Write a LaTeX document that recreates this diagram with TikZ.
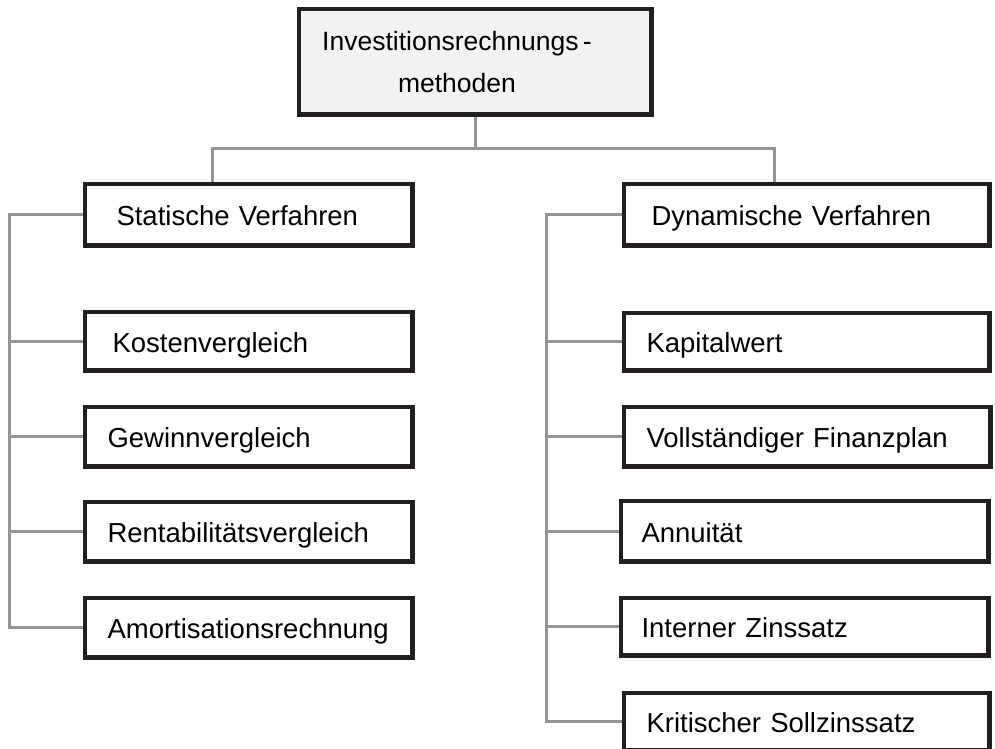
\documentclass[tikz,border=0pt]{standalone}
\usepackage{fontspec}
\setmainfont{Liberation Sans}
\usetikzlibrary{calc}
\definecolor{boxline}{HTML}{231F20}
\definecolor{connline}{HTML}{939598}
\definecolor{topfill}{HTML}{F1F2F3}
\begin{document}
\begin{tikzpicture}[x=1pt,y=-1pt,
  box/.style={draw=boxline, line width=3pt, fill=white, rectangle, anchor=north west,
    inner ysep=0pt, inner xsep=0pt, align=left, text height=24pt, text depth=2pt,
    font=\fontsize{27.5}{33}\selectfont},
  conn/.style={draw=connline, line width=3pt},
]
\useasboundingbox (0,0) rectangle (995,748);

% top box
\node[draw=boxline, line width=3pt, fill=topfill, anchor=north west,
  minimum width=351pt, minimum height=104pt, inner sep=0pt] (top) at (298,8) {};
\node[align=center, font=\fontsize{26.5}{42}\selectfont, inner sep=0pt] (toptext) at (457,62)
  {Investitionsrechnungs\,-\\methoden};

\coordinate (jy) at (0,148);
\coordinate (ls) at (9,0);
\coordinate (rs) at (546,0);

% left boxes
\newcommand{\lpad}[1]{\hspace*{#1}}
\node[box, minimum width=326pt, minimum height=60pt, text width=326pt] (stat) at (84,183) {\lpad{31pt}Statische Verfahren};
\node[box, minimum width=326pt, minimum height=57pt, text width=326pt] (kost) at (84,311) {\lpad{27pt}Kostenvergleich};
\node[box, minimum width=326pt, minimum height=58pt, text width=326pt] (gew) at (84,406) {\lpad{22pt}Gewinnvergleich};
\node[box, minimum width=326pt, minimum height=58pt, text width=326pt] (rent) at (84,501) {\lpad{22pt}Rentabilitätsvergleich};
\node[box, minimum width=326pt, minimum height=58pt, text width=326pt] (amort) at (84,597) {\lpad{22pt}Amortisationsrechnung};

% right boxes
\node[box, minimum width=364pt, minimum height=60pt, text width=364pt] (dyn) at (623,183) {\lpad{27pt}Dynamische Verfahren};
\node[box, minimum width=364pt, minimum height=56pt, text width=364pt] (kap) at (623,312) {\lpad{22pt}Kapitalwert};
\node[box, minimum width=365pt, minimum height=58pt, text width=365pt] (voll) at (623,406) {\lpad{22pt}Vollständiger Finanzplan};
\node[box, minimum width=366pt, minimum height=59pt, text width=366pt] (ann) at (620,500) {\lpad{20pt}Annuität};
\node[box, minimum width=366pt, minimum height=56pt, text width=366pt] (int) at (620,597) {\lpad{20pt}Interner Zinssatz};
\node[box, minimum width=364pt, minimum height=56pt, text width=364pt] (krit) at (623,692) {\lpad{22pt}Kritischer Sollzinssatz};

% connectors
\draw[conn] (top.south) -- (top.south |- jy);
\draw[conn] ($(stat.north west)+(128,0)$) |- (top.south |- jy) -| ($(dyn.north west)+(151,0)$);
\draw[conn] (stat.west) -| (ls |- amort.west) -- (amort.west);
\draw[conn] (kost.west) -- (ls |- kost.west);
\draw[conn] (gew.west) -- (ls |- gew.west);
\draw[conn] (rent.west) -- (ls |- rent.west);
\draw[conn] (dyn.west) -| (rs |- krit.west) -- (krit.west);
\draw[conn] (kap.west) -- (rs |- kap.west);
\draw[conn] (voll.west) -- (rs |- voll.west);
\draw[conn] (ann.west) -- (rs |- ann.west);
\draw[conn] (int.west) -- (rs |- int.west);

% redraw box borders over connector ends
\foreach \n in {top,stat,kost,gew,rent,amort,dyn,kap,voll,ann,int,krit}{
  \draw[boxline, line width=3pt] (\n.north west) rectangle (\n.south east);
}
\end{tikzpicture}
\end{document}
